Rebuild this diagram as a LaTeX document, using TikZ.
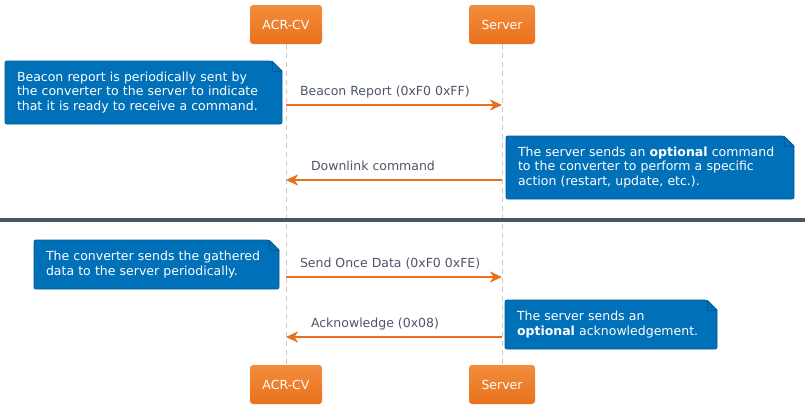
\documentclass[tikz,border=0pt]{standalone}
\usepackage{fontspec}
\setmainfont{DejaVu Sans}
\usepackage{tikz}
\usetikzlibrary{arrows.meta,backgrounds,positioning}

\definecolor{actortop}{HTML}{F28D3C}
\definecolor{actorbot}{HTML}{E9711D}
\definecolor{msgline}{HTML}{E9701C}
\definecolor{notefill}{HTML}{0070B8}
\definecolor{noteline}{HTML}{005A96}
\definecolor{labeltext}{HTML}{4B5567}
\definecolor{lifegray}{HTML}{C8C8C8}
\definecolor{sepline}{HTML}{4A5568}

\newcommand{\txt}{\fontsize{12.5}{14.5}\selectfont}

\tikzset{
    actor/.style={rectangle, rounded corners=3pt, top color=actortop, bottom color=actorbot,
        text=white, font=\txt, minimum height=39pt, inner sep=0pt, outer sep=0pt},
    lifeline/.style={lifegray, line width=0.8pt, dash pattern=on 5pt off 4pt},
    msg/.style={msgline, line width=2pt, -{Stealth[length=12pt, width=11pt, inset=3.5pt]}},
    lbl/.style={labeltext, font=\txt, anchor=base west, inner sep=0pt, yshift=10pt},
    note/.style={text=white, font=\txt, align=left, inner xsep=12pt, inner ysep=0pt, outer sep=0pt},
}

\newcommand{\notebg}[1]{%
    \begin{pgfonlayer}{background}
        \filldraw[fill=notefill, draw=noteline, line width=0.8pt, rounded corners=2pt]
            (#1.south west) -- (#1.north west) -- ([xshift=-10pt]#1.north east)
            [sharp corners] -- ([yshift=-10pt]#1.north east)
            [rounded corners=2pt] -- (#1.south east) -- cycle;
        \draw[noteline, line width=0.8pt]
            ([xshift=-10pt]#1.north east) |- ([yshift=-10pt]#1.north east);
    \end{pgfonlayer}}

\begin{document}
\begin{tikzpicture}[x=1pt, y=-1pt]
    \useasboundingbox (0,0) rectangle (811,410);

    % participants
    \node[actor, minimum width=72pt] (acrT) at (286,24.5) {ACR-CV};
    \node[actor, minimum width=66pt] (srvT) at (502,24.5) {Server};
    \node[actor, minimum width=72pt] (acrB) at (286,384.5) {ACR-CV};
    \node[actor, minimum width=66pt] (srvB) at (502,384.5) {Server};

    \draw[lifeline] (acrT) -- (acrB);
    \draw[lifeline] (srvT) -- (srvB);

    \foreach \y/\n in {105/1, 180/2, 277/3, 337/4} {
        \coordinate (c\n) at (acrT.south |- 0,\y);
        \coordinate (s\n) at (srvT.south |- 0,\y);
    }

    % notes
    \node[note, text width=253pt, minimum height=63pt] (n1) at (143.5,92.5)
        {Beacon report is periodically sent by\\the converter to the server to indicate\\that it is ready to receive a command.};
    \node[note, text width=264pt, minimum height=63pt] (n2) at (650,167.5)
        {The server sends an \textbf{optional} command\\to the converter to perform a specific\\action (restart, update, etc.).};
    \node[note, text width=221pt, minimum height=49pt] (n3) at (156.5,264.5)
        {The converter sends the gathered\\data to the server periodically.};
    \node[note, text width=188pt, minimum height=49pt] (n4) at (611,324.5)
        {The server sends an\\\textbf{optional} acknowledgement.};
    \foreach \n in {n1,n2,n3,n4} {\notebg{\n}}

    % messages
    \draw[msg] (c1) -- node[lbl, pos=0, xshift=13pt] {Beacon Report (0xF0 0xFF)} (s1);
    \draw[msg] (s2) -- node[lbl, pos=1, xshift=24pt] {Downlink command} (c2);
    \draw[msg] (c3) -- node[lbl, pos=0, xshift=13pt] {Send Once Data (0xF0 0xFE)} (s3);
    \draw[msg] (s4) -- node[lbl, pos=1, xshift=24pt] {Acknowledge (0x08)} (c4);

    \draw[sepline, line width=4pt] (0,220) -- (805,220);
\end{tikzpicture}
\end{document}
